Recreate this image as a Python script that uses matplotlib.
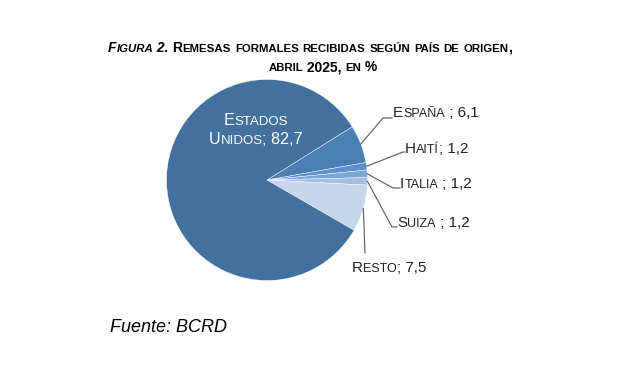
import numpy as np
import matplotlib.pyplot as plt
from matplotlib.offsetbox import TextArea, HPacker, VPacker, AnnotationBbox

plt.rcParams['font.family'] = ['Liberation Sans', 'DejaVu Sans']

# data
paises = ['España', 'Haití', 'Italia', 'Suiza', 'Resto', 'Estados Unidos']
valores = [6.1, 1.2, 1.2, 1.2, 7.5, 82.7]
etiquetas = ['España ; 6,1', 'Haití; 1,2', 'Italia ; 1,2', 'Suiza ; 1,2', 'Resto; 7,5',
             'Estados\nUnidos; 82,7']
colores = ['#4a7fb6', '#5b8fce', '#7fa4d6', '#a3bde3', '#c6d6ec', '#41719c']

W, H = 620, 376


def smallcaps(ax, segs, xy, align=(0, 0), size=10, color='#222222', ratio=0.82, sep=2):
    # segs: list of lines, each line a list of (text, extra props)
    lines = []
    for line in segs:
        kids = []
        for txt, props in line:
            runs = []
            for ch in txt:
                small = ch.islower()
                if runs and runs[-1][1] == small:
                    runs[-1][0] += ch
                else:
                    runs.append([ch, small])
            for r, small in runs:
                tp = dict(size=size * ratio if small else size, color=color)
                tp.update(props)
                kids.append(TextArea(r.upper(), textprops=tp))
        lines.append(HPacker(children=kids, align='baseline', pad=0, sep=0))
    box = VPacker(children=lines, align='center', pad=0, sep=sep)
    ab = AnnotationBbox(box, xy, xycoords='data', frameon=False, box_alignment=align, pad=0)
    ax.add_artist(ab)


fig = plt.figure(figsize=(6.2, 3.76), dpi=100)
ax = fig.add_axes([0, 0, 1, 1])

cx, cy, rad = 267, H - 180, 100.5
wedges, _ = ax.pie(valores, colors=colores, startangle=32, counterclock=False,
                   center=(cx, cy), radius=rad, frame=True,
                   wedgeprops=dict(edgecolor='white', linewidth=0.3))
ax.set_xlim(0, W)
ax.set_ylim(0, H)
ax.set_aspect('equal')
ax.axis('off')

# leader lines: (elbow x, elbow y, end x) in image pixels, label baseline
codos = [(383, 118, 392), (403, 152, 405), (393, 188, 400), (392, 227, 397), (365, 253, 365)]
pos_txt = [(393, 117), (405, 153), (400, 188), (397, 227), (352, 272)]
for i in range(5):
    w = wedges[i]
    a = np.deg2rad((w.theta1 + w.theta2) / 2)
    x0, y0 = cx + rad * np.cos(a), cy + rad * np.sin(a)
    ex, ey, fx = codos[i]
    ax.plot([x0, ex, fx], [y0, H - ey, H - ey], color='#595959', lw=0.8)
    tx, ty = pos_txt[i]
    smallcaps(ax, [[(etiquetas[i], {})]], (tx, H - ty - 3), align=(0, 0), size=11)

l1, l2 = etiquetas[5].split('\n')
smallcaps(ax, [[(l1, {})], [(l2, {})]], (256, H - 130), align=(0.5, 0.5), size=11.6,
          color='white', sep=3)

# title
titulo1 = [('Figura 2. ', dict(weight='bold', style='italic')),
           ('Remesas formales recibidas según país de origen,', dict(weight='bold'))]
titulo2 = [('abril 2025, en %', dict(weight='bold'))]
smallcaps(ax, [titulo1], (310, H - 48), align=(0.5, 0.5), size=10, color='black')
smallcaps(ax, [titulo2], (323, H - 67), align=(0.5, 0.5), size=10, color='black')

ax.text(110, H - 328, 'Fuente: BCRD', fontsize=13, style='italic', color='black', va='center')

plt.savefig('out.png', dpi=100)
